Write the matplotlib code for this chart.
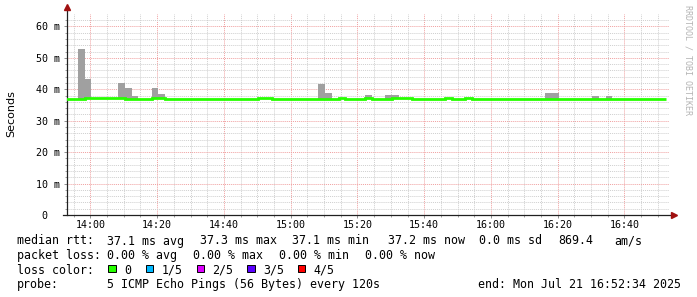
import numpy as np
import pandas as pd
import matplotlib
matplotlib.use("Agg")
import matplotlib.pyplot as plt
import matplotlib.dates as mdates
from matplotlib.patches import Rectangle
from matplotlib.ticker import MultipleLocator, FuncFormatter

# --- datos (ms) ---
bin_start = "2025-07-21 13:52:20"   # cada bin = 120 s (una ronda de 5 pings)
n_bins = 90

median_ms = [37.0, 37.0, 37.0, 37.2, 37.2, 37.2, 37.2, 37.2, 37.2, 37.0,
             37.0, 37.0, 37.0, 37.1, 37.1, 37.0, 37.0, 37.0, 37.0, 37.0,
             37.0, 37.0, 37.0, 37.0, 37.0, 37.0, 37.0, 37.0, 37.0, 37.2,
             37.2, 37.0, 37.0, 37.0, 37.0, 37.0, 37.0, 37.0, 37.0, 37.0,
             37.0, 37.2, 37.0, 37.0, 37.0, 37.2, 37.0, 37.0, 37.0, 37.1,
             37.1, 37.1, 37.0, 37.0, 37.0, 37.0, 37.0, 37.2, 37.0, 37.0,
             37.2, 37.0, 37.0, 37.0, 37.0, 37.0, 37.0, 37.0, 37.0, 37.0,
             37.0, 37.0, 37.0, 36.8, 37.0, 37.0, 37.0, 37.0, 37.0, 37.0,
             37.0, 37.0, 37.0, 37.0, 37.0, 37.0, 37.0, 37.0, 37.0, 37.0]

# humo: max de los pings en los bins con dispersion visible
smoke_time = ["13:56:20", "13:58:20", "14:08:20", "14:10:20", "14:12:20",
              "14:18:20", "14:20:20", "15:08:20", "15:10:20", "15:22:20",
              "15:28:20", "15:30:20", "16:16:20", "16:18:20", "16:30:20",
              "16:34:20"]
smoke_top = [52.9, 43.3, 42.0, 40.4, 37.9,
             40.4, 38.5, 41.8, 38.9, 38.2,
             38.2, 38.2, 38.85, 38.85, 37.9,
             37.9]
smoke_low = 37.0

y_ticks = [0, 10, 20, 30, 40, 50, 60]

legend_lines = {
    "median": ["median rtt:", "37.1 ms avg", "37.3 ms max", "37.1 ms min",
               "37.2 ms now", "0.0 ms sd", "869.4", "am/s"],
    "loss": ["packet loss:", "0.00 % avg", "0.00 % max", "0.00 % min", "0.00 % now"],
}
loss_labels = ["0", "1/5", "2/5", "3/5", "4/5"]
loss_colors = ["#26ff00", "#00b8ff", "#dd00ff", "#5a00ff", "#ff0000"]
probe_text = "5 ICMP Echo Pings (56 Bytes) every 120s"
end_text = "end: Mon Jul 21 16:52:34 2025"

# --- figura ---
W, H = 697, 297
fig = plt.figure(figsize=(W / 100, H / 100), dpi=100, facecolor="white")
mono = "DejaVu Sans Mono"

def fx(px):
    return px / W

def fy(py):
    return 1 - py / H

ax = fig.add_axes([fx(67), fy(215), fx(669) - fx(67), fy(14) - fy(215)])
ax.set_facecolor("white")

edges = pd.date_range(bin_start, periods=n_bins + 1, freq="120s")
edges_num = mdates.date2num(edges)
width = edges_num[1] - edges_num[0]

sm_x = mdates.date2num(pd.to_datetime(["2025-07-21 " + t for t in smoke_time]))
ax.bar(sm_x, np.array(smoke_top) - smoke_low, bottom=smoke_low, width=width,
       align="edge", color="#a0a0a0", linewidth=0, zorder=2)
ax.stairs(median_ms, edges_num, color="#26ff00", linewidth=2.0, baseline=None, zorder=3)

ax.set_xlim(mdates.date2num(pd.Timestamp("2025-07-21 13:53:00")),
            mdates.date2num(pd.Timestamp("2025-07-21 16:53:20")))
ax.set_ylim(0, 63.95)

ax.xaxis.set_major_locator(mdates.MinuteLocator(byminute=[0, 20, 40]))
ax.xaxis.set_minor_locator(mdates.MinuteLocator(byminute=range(0, 60, 5)))
ax.xaxis.set_major_formatter(mdates.DateFormatter("%H:%M"))
ax.set_yticks(y_ticks)
ax.yaxis.set_minor_locator(MultipleLocator(2))
ax.yaxis.set_major_formatter(FuncFormatter(lambda v, p: f"{v:.0f} m" if v else "0  "))

ax.set_axisbelow(True)
ax.grid(which="minor", color="#cfcfcf", linestyle=(0, (1, 1)), linewidth=0.7)
ax.grid(which="major", color="#f0a0a0", linestyle=(0, (1, 1)), linewidth=0.7)

for s in ax.spines.values():
    s.set_visible(False)
ax.tick_params(which="both", direction="out", color="#909090", labelsize=7.2)
ax.tick_params(which="major", length=2, width=0.7)
ax.tick_params(which="minor", length=1.5, width=0.6)
ax.tick_params(axis="y", pad=3)
ax.tick_params(axis="x", pad=1.5)
for lab in ax.get_xticklabels() + ax.get_yticklabels():
    lab.set_family(mono)

# ejes con flechas al estilo rrdtool
ax.plot([0, 0], [0, 1.03], color="#202020", lw=0.9, transform=ax.transAxes, clip_on=False)
ax.plot([-0.006, 1.006], [0, 0], color="#202020", lw=0.9, transform=ax.transAxes, clip_on=False)
ax.plot([0], [1.035], marker="^", ms=4, color="#a01010", transform=ax.transAxes, clip_on=False)
ax.plot([1.009], [0], marker=">", ms=4, color="#a01010", transform=ax.transAxes, clip_on=False)

fig.text(fx(11.7), fy(114), "Seconds", rotation=90, ha="center", va="center",
         fontsize=8, family="DejaVu Sans")
fig.text(fx(688), fy(5), "RRDTOOL / TOBI OETIKER", rotation=270, ha="center", va="top",
         fontsize=6, color="#b4b4b4", family=mono)

# --- leyenda ---
fs = 8.35
med_x = [16.7, 107.3, 200, 292.5, 388, 479.3, 558.3, 614]
for t, x in zip(legend_lines["median"], med_x):
    fig.text(fx(x), fy(241), t, fontsize=fs, family=mono, va="center")
loss_x = [16.7, 107.3, 193.3, 279.3, 365.3]
for t, x in zip(legend_lines["loss"], loss_x):
    fig.text(fx(x), fy(255.7), t, fontsize=fs, family=mono, va="center")

fig.text(fx(16.7), fy(270), "loss color:", fontsize=fs, family=mono, va="center")
box_x = [108.3, 145.7, 196.7, 247.3, 297.7]
for c, lab, x in zip(loss_colors, loss_labels, box_x):
    fig.add_artist(Rectangle((fx(x), fy(272.3)), fx(7.7), 7.6 / H, facecolor=c,
                             edgecolor="black", linewidth=0.7, transform=fig.transFigure))
    fig.text(fx(x + 15.5), fy(270), lab, fontsize=fs, family=mono, va="center")

fig.text(fx(16.7), fy(284.3), "probe:", fontsize=fs, family=mono, va="center")
fig.text(fx(107.3), fy(284.3), probe_text, fontsize=fs, family=mono, va="center")
fig.text(fx(478.3), fy(284.3), end_text, fontsize=fs, family=mono, va="center")

fig.savefig("out.png", dpi=100, facecolor="white")
